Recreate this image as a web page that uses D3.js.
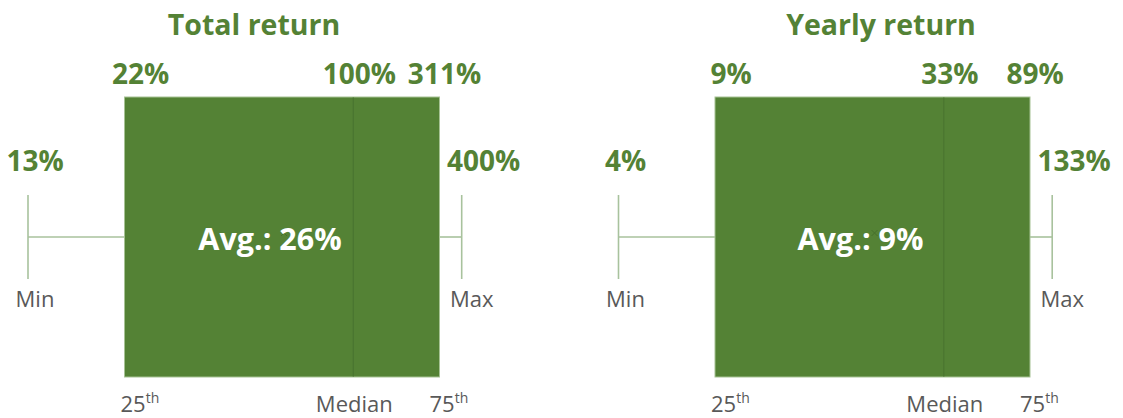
<!DOCTYPE html>
<html>
<head>
<meta charset="utf-8">
<script src="https://cdn.jsdelivr.net/npm/d3@7"></script>
<style>
  html, body { margin: 0; padding: 0; background: #ffffff; }
  svg { display: block; }
  text { font-family: "Open Sans", "Noto Sans", sans-serif; }
</style>
</head>
<body>
<svg id="chart" width="1123" height="418"></svg>
<script>
// ---- data ----
const titles = ["Total return", "Yearly return"];
const minVals = [13, 4];
const q1Vals = [22, 9];
const medianVals = [100, 33];
const q3Vals = [311, 89];
const maxVals = [400, 133];
const meanVals = [26, 9];
const statKeys = ["min", "q1", "median", "q3", "max"];
const statLabels = ["Min", "25th", "Median", "75th", "Max"];

// ---- layout (schematic, not value-driven) ----
const green = "#548235";
const boxStroke = "#a6c294";
const whiskerColor = "#a8c29d";
const medianColor = "#4a7530";
const grayText = "#595959";

const svg = d3.select("#chart");

// panels side by side
const panelScale = d3.scaleBand().domain(titles).range([0, 1181]).padding(0);
// schematic positions inside a panel
const posScale = d3.scaleOrdinal()
  .domain(["min", "q1", "mean", "median", "q3", "max"])
  .range([28, 124.5, 284, 353.3, 439.5, 461.7]);
const titleX = d3.scaleOrdinal().domain(titles).range([254, 290.5]);
// vertical layout
const y = d3.scaleOrdinal()
  .domain(["title", "topLabel", "sideLabel", "boxTop", "whiskerTop", "mid", "whiskerBottom", "sideStat", "boxBottom", "bottomStat"])
  .range([35, 84, 171, 97, 195, 237, 279, 306.5, 377, 412]);

// label offsets
const valueDx = { min: 7, q1: 16, median: 6, q3: 5, max: 22 };
const fmt = v => v + "%";

titles.forEach((t, i) => {
  const g = svg.append("g").attr("transform", `translate(${panelScale(t)},0)`);
  const vals = { min: minVals[i], q1: q1Vals[i], median: medianVals[i], q3: q3Vals[i], max: maxVals[i] };
  const x = k => posScale(k);

  // title
  g.append("text")
    .attr("x", titleX(t)).attr("y", y("title"))
    .attr("text-anchor", "middle")
    .attr("font-size", 28.5).attr("font-weight", 700)
    .attr("fill", green)
    .text(t);

  // whiskers
  const wg = g.append("g").attr("stroke", whiskerColor).attr("stroke-width", 1.6).attr("fill", "none");
  wg.append("line").attr("x1", x("min")).attr("x2", x("q1")).attr("y1", y("mid")).attr("y2", y("mid"));
  wg.append("line").attr("x1", x("q3")).attr("x2", x("max")).attr("y1", y("mid")).attr("y2", y("mid"));
  ["min", "max"].forEach(k => {
    wg.append("line").attr("x1", x(k)).attr("x2", x(k)).attr("y1", y("whiskerTop")).attr("y2", y("whiskerBottom"));
  });

  // box
  g.append("rect")
    .attr("x", x("q1")).attr("y", y("boxTop"))
    .attr("width", x("q3") - x("q1")).attr("height", y("boxBottom") - y("boxTop"))
    .attr("fill", green).attr("stroke", boxStroke).attr("stroke-width", 1);

  // median line
  g.append("line")
    .attr("x1", x("median")).attr("x2", x("median"))
    .attr("y1", y("boxTop") + 0.5).attr("y2", y("boxBottom") - 0.5)
    .attr("stroke", medianColor).attr("stroke-width", 1.2);

  // mean marker
  const mx = x("mean"), my = y("mid") - 4, s = 3;
  g.append("path")
    .attr("d", `M${mx - s},${my - s}L${mx + s},${my + s}M${mx - s},${my + s}L${mx + s},${my - s}`)
    .attr("stroke", "#46702c").attr("stroke-width", 1).attr("fill", "none");

  // mean label
  g.append("text")
    .attr("x", x("mean") - 14).attr("y", 250)
    .attr("text-anchor", "middle")
    .attr("font-size", 30.5).attr("font-weight", 700)
    .attr("fill", "#ffffff")
    .text("Avg.: " + fmt(meanVals[i]));

  // value labels
  statKeys.forEach(k => {
    const yy = (k === "min" || k === "max") ? y("sideLabel") : y("topLabel");
    g.append("text")
      .attr("x", x(k) + valueDx[k]).attr("y", yy)
      .attr("text-anchor", "middle")
      .attr("font-size", 28).attr("font-weight", 700)
      .attr("fill", green)
      .text(fmt(vals[k]));
  });

  // stat labels
  statKeys.forEach((k, j) => {
    const lbl = statLabels[j];
    const txt = g.append("text").attr("fill", grayText).attr("font-size", 22);
    if (k === "min" || k === "max") {
      txt.attr("x", x(k) + (k === "min" ? 7 : 10)).attr("y", y("sideStat")).attr("text-anchor", "middle").text(lbl);
    } else if (k === "median") {
      txt.attr("x", x(k) + 1).attr("y", y("bottomStat")).attr("text-anchor", "middle").text(lbl);
    } else {
      const m = lbl.match(/^(\d+)(th)$/);
      txt.attr("x", x(k) + (k === "q1" ? -4 : -10)).attr("y", y("bottomStat")).attr("text-anchor", "start");
      txt.append("tspan").text(m[1]);
      txt.append("tspan").attr("font-size", 14).attr("dy", -9).text(m[2]);
    }
  });
});
</script>
</body>
</html>
